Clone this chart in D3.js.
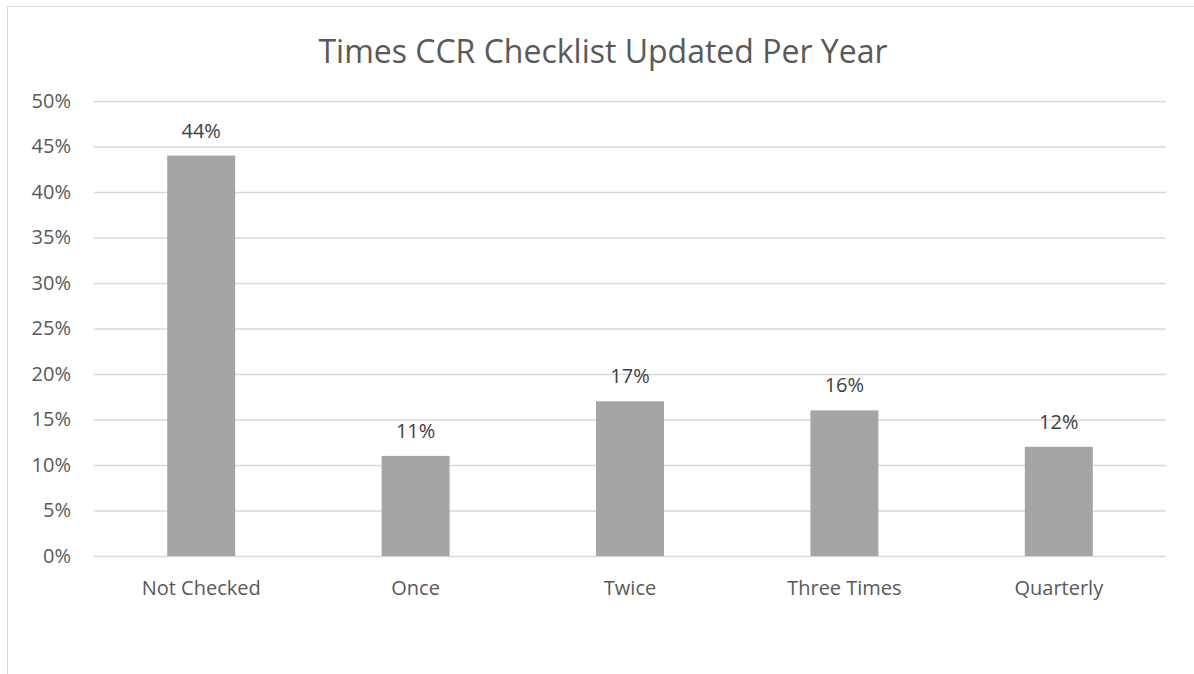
<!DOCTYPE html>
<html>
<head>
<meta charset="utf-8">
<script src="https://cdn.jsdelivr.net/npm/d3@7"></script>
<style>
  body { margin: 0; background: #fff; }
  svg { display: block; font-family: "Open Sans", sans-serif; }
</style>
</head>
<body>
<svg id="chart"></svg>
<script>
var categories = ['Not Checked', 'Once', 'Twice', 'Three Times', 'Quarterly'];
var values = [0.44, 0.11, 0.17, 0.16, 0.12];
var yTicks = [0, 0.05, 0.10, 0.15, 0.20, 0.25, 0.30, 0.35, 0.40, 0.45, 0.50];

var width = 1194;
var height = 674;
var margin = {top: 101, right: 28, bottom: 118, left: 94};
var font = '"Open Sans", sans-serif';

var svg = d3.select('#chart')
    .attr('width', width)
    .attr('height', height);

// chart frame (only top/left edges visible in the crop)
svg.append('rect')
    .attr('x', 7.5).attr('y', 6.5)
    .attr('width', width + 10).attr('height', height + 10)
    .attr('fill', 'none')
    .attr('stroke', '#d9d9d9');

var x = d3.scaleBand()
    .domain(categories)
    .range([margin.left, width - margin.right])
    .paddingInner(0.683)
    .paddingOuter(0.3415);

var y = d3.scaleLinear()
    .domain([0, 0.5])
    .range([height - margin.bottom, margin.top]);

svg.append('text')
    .attr('x', width / 2 + 6)
    .attr('y', 63)
    .attr('text-anchor', 'middle')
    .attr('fill', '#595959')
    .style('font-size', '32px')
    .text('Times CCR Checklist Updated Per Year');

// gridlines + y labels
var yAxis = d3.axisLeft(y)
    .tickValues(yTicks)
    .tickFormat(d3.format('.0%'))
    .tickSize(-(width - margin.left - margin.right))
    .tickPadding(23);

var gy = svg.append('g')
    .attr('transform', `translate(${margin.left},0)`)
    .call(yAxis)
    .attr('font-family', font)
    .attr('font-size', 20);
gy.select('.domain').remove();
gy.selectAll('.tick line').attr('stroke', '#d9d9d9').attr('stroke-width', 1.3);
gy.selectAll('.tick text').attr('fill', '#595959');

svg.append('g')
    .selectAll('rect')
    .data(values)
    .enter().append('rect')
    .attr('x', function(d, i) { return x(categories[i]); })
    .attr('y', function(d) { return y(d); })
    .attr('width', x.bandwidth())
    .attr('height', function(d) { return y(0) - y(d); })
    .attr('fill', '#a5a5a5');

svg.append('g')
    .selectAll('text')
    .data(values)
    .enter().append('text')
    .attr('x', function(d, i) { return x(categories[i]) + x.bandwidth() / 2; })
    .attr('y', function(d) { return y(d) - 18; })
    .attr('text-anchor', 'middle')
    .attr('fill', '#404040')
    .style('font-size', '20px')
    .text(function(d) { return d3.format('.0%')(d); });

var xAxis = d3.axisBottom(x).tickSize(0).tickPadding(25);
var gx = svg.append('g')
    .attr('transform', `translate(0,${height - margin.bottom})`)
    .call(xAxis)
    .attr('font-family', font)
    .attr('font-size', 20);
gx.select('.domain').remove();
gx.selectAll('.tick text').attr('fill', '#595959');
</script>
</body>
</html>
